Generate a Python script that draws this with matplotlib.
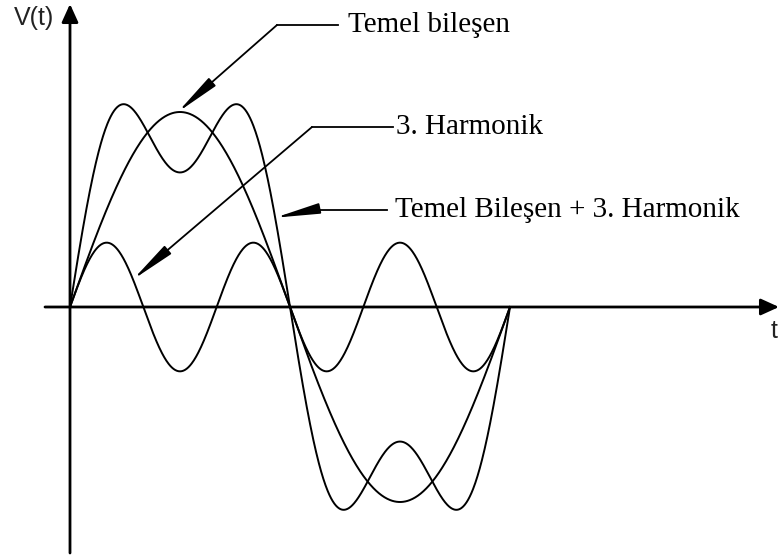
import numpy as np
import matplotlib.pyplot as plt

# amplitudes (fundamental peak = 1)
fund_amp = 1.0
harm3_amp = 0.33
sum_amp1 = 1.08
sum_amp3 = 0.39
t_end = 2 * np.pi

labels = ["Temel bileşen", "3. Harmonik", "Temel Bileşen + 3. Harmonik"]

# picture geometry (pixels)
W, H = 779, 560
X0, Y0 = 70, 307          # origin
SX = 440 / (2 * np.pi)    # px per radian
SY = 195                  # px per unit


def px(x, y):
    """image pixel (from top-left) -> data coords"""
    return (x - X0) / SX, (Y0 - y) / SY


def main():
    fig = plt.figure(figsize=(W / 100, H / 100), dpi=100)
    ax = fig.add_axes([0, 0, 1, 1])
    ax.set_xlim(px(0, 0)[0], px(W, 0)[0])
    ax.set_ylim(px(0, H)[1], px(0, 0)[1])
    ax.axis('off')

    t = np.linspace(0, t_end, 800)
    fund = fund_amp * np.sin(t)
    harm = harm3_amp * np.sin(3 * t)
    total = sum_amp1 * np.sin(t) + sum_amp3 * np.sin(3 * t)
    for y in (fund, harm, total):
        ax.plot(t, y, color='black', lw=1.4)

    ## axes with arrows
    ax_head = '-|>,head_length=1.1,head_width=0.5'
    ax.annotate('', xy=px(779, Y0), xytext=px(45, Y0),
                arrowprops=dict(arrowstyle=ax_head, mutation_scale=10, lw=2,
                                color='black', shrinkA=0, shrinkB=0))
    ax.annotate('', xy=px(X0, 4), xytext=px(X0, 553),
                arrowprops=dict(arrowstyle=ax_head, mutation_scale=10, lw=2,
                                color='black', shrinkA=0, shrinkB=0))
    ax.text(*px(34, 18), 'V(t)', fontsize=18, family='Liberation Sans',
            ha='center', va='center', color='#222222')
    ax.text(*px(771, 331), 't', fontsize=18, family='Liberation Sans',
            ha='left', va='center', color='#222222')

    ## callouts
    tip1 = (1.54, fund_amp * np.sin(1.54))
    tip2 = (0.9, harm3_amp * np.sin(2.7))
    t3 = 2.93
    tip3 = (t3, sum_amp1 * np.sin(t3) + sum_amp3 * np.sin(3 * t3))

    callouts = [
        (tip1, [(338, 25), (277, 25)], (348, 25)),
        (tip2, [(393, 127), (312, 127)], (396, 127)),
        (tip3, [(387, 210), (312, 210)], (395, 210)),
    ]
    head = '-|>,head_length=2.7,head_width=0.32'
    for (tip, bend, txt), lab in zip(callouts, labels):
        pts = [px(*p) for p in bend]
        ax.plot([p[0] for p in pts], [p[1] for p in pts], color='black', lw=1.3)
        ax.annotate('', xy=tip, xytext=pts[-1],
                    arrowprops=dict(arrowstyle=head, mutation_scale=10, lw=1.3,
                                    color='black', shrinkA=0, shrinkB=0))
        ax.text(*px(*txt), lab, fontsize=21, family='Liberation Serif',
                ha='left', va='center', color='black')

    fig.savefig('out.png', dpi=100)
    plt.close()


if __name__ == "__main__":
    main()
